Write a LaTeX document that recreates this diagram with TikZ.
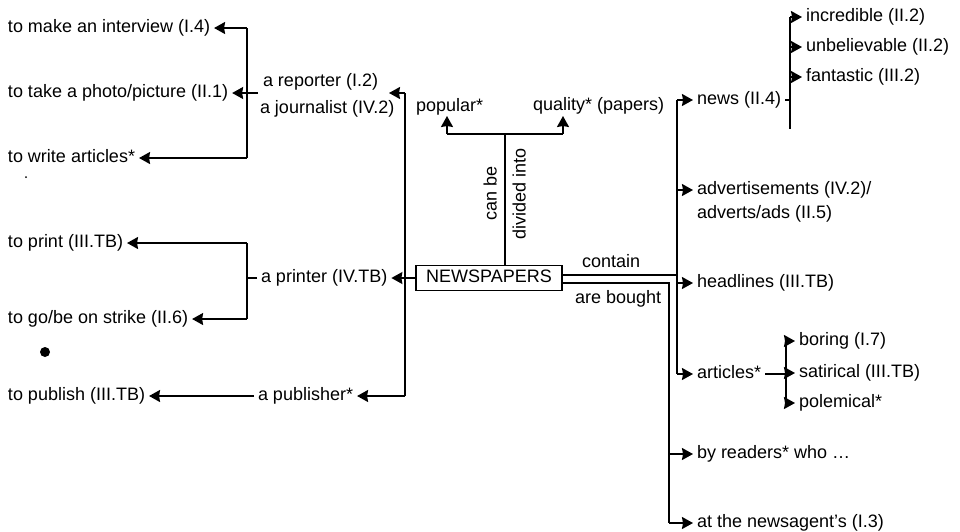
\documentclass[tikz,border=0pt]{standalone}
\usepackage{fontspec}
\setmainfont{Liberation Sans}
\usetikzlibrary{arrows.meta}
\begin{document}
\begin{tikzpicture}[x=1pt,y=-1pt,
  txt/.style={inner sep=0pt,font=\fontsize{18}{20}\selectfont,text height=12.5pt,text depth=3.5pt},
  lab/.style={txt,anchor=west,outer xsep=4pt},
  box/.style={txt,draw,line width=1.4pt,minimum width=146pt,minimum height=25pt},
  ln/.style={line width=1.6pt},
  arr/.style={ln,-{Stealth[length=11pt,width=12pt,inset=1pt]}}]
\useasboundingbox[fill=white] (0,0) rectangle (960,531);
% left labels
\node[lab] (intv) at (4,28) {to make an interview (I.4)};
\node[lab] (photo) at (4,93) {to take a photo/picture (II.1)};
\node[lab] (write) at (4,158) {to write articles*};
\node[lab] (print) at (4,243) {to print (III.TB)};
\node[lab] (strike) at (4,319) {to go/be on strike (II.6)};
\node[lab] (publish) at (4,396) {to publish (III.TB)};
\node[lab] (reporter) at (259,82) {a reporter (I.2)};
\node[lab] (journalist) at (256,109) {a journalist (IV.2)};
\node[lab] (printer) at (257,278) {a printer (IV.TB)};
\node[lab] (publisher) at (254,396) {a publisher*};
% centre
\node[box] (np) at (489,278) {NEWSPAPERS};
\node[lab] (popular) at (412,107) {popular*};
\node[lab] (quality) at (529,106) {quality* (papers)};
\node[txt,rotate=90] (canbe) at (492,193) {can be};
\node[txt,rotate=90] (divided) at (521,194) {divided into};
\node[lab] (contain) at (578,263) {contain};
\node[lab] (bought) at (571,299) {are bought};
% right labels
\node[lab] (news) at (693,100) {news (II.4)};
\node[lab] (incredible) at (802,17) {incredible (II.2)};
\node[lab] (unbelievable) at (802,47) {unbelievable (II.2)};
\node[lab] (fantastic) at (802,77) {fantastic (III.2)};
\node[lab] (ads1) at (693,190) {advertisements (IV.2)/};
\node[lab] (ads2) at (693,214) {adverts/ads (II.5)};
\node[lab] (headlines) at (693,283) {headlines (III.TB)};
\node[lab] (articles) at (693,374) {articles*};
\node[lab] (boring) at (795,341) {boring (I.7)};
\node[lab] (satirical) at (795,373) {satirical (III.TB)};
\node[lab] (polemical) at (795,403) {polemical*};
\node[lab] (readers) at (693,454) {by readers* who \dots};
\node[lab] (newsagent) at (693,523) {at the newsagent’s (I.3)};
% dots
\fill (45,352) circle (5);
\fill (26,177) circle (1);
% reporter group
\coordinate (rTop) at (247,28);
\coordinate (rBot) at (247,158);
\coordinate (rjDash) at (258,93);
\draw[ln] (rTop) -- (rBot);
\draw[arr] (rTop) -- (intv.east);
\draw[arr] (rjDash) -- (photo.east);
\draw[arr] (rBot) -- (write.east);
% spine left of box
\coordinate (sTop) at (405,93);
\coordinate (sBot) at (405,396);
\coordinate (rjTip) at (389,93);
\draw[ln] (sTop) -- (sBot);
\draw[arr] (sTop) -- (rjTip);
\draw[arr] (sBot) -- (publisher.east);
\draw[arr] (np.west) -- (printer.east);
% printer group
\coordinate (pTop) at (247,243);
\coordinate (pBot) at (247,319);
\coordinate (pMid) at (247,278);
\draw[ln] (pTop) -- (pBot);
\draw[ln] (printer.west) -- (pMid);
\draw[arr] (pTop) -- (print.east);
\draw[arr] (pBot) -- (strike.east);
\draw[arr] (publisher.west) -- (publish.east);
% divided into
\coordinate (dv) at (505,134);
\coordinate (dL) at (447,134);
\coordinate (dR) at (563,134);
\coordinate (tipL) at (447,116);
\coordinate (tipR) at (563,116);
\draw[ln] (np.north -| dv) -- (dv);
\draw[ln] (dL) -- (dR);
\draw[arr] (dL) -- (tipL);
\draw[arr] (dR) -- (tipR);
% contain
\coordinate (cJ) at (677,275);
\coordinate (cTop) at (677,100);
\coordinate (cBot) at (677,374);
\draw[ln] (np.east |- cJ) -- (cJ);
\draw[ln] (cTop) -- (cBot);
\draw[arr] (cTop) -- (news.west);
\draw[arr] (cTop |- ads1) -- (ads1.west);
\draw[arr] (cTop |- headlines) -- (headlines.west);
\draw[arr] (cBot) -- (articles.west);
% are bought
\coordinate (bJ) at (669,283);
\coordinate (bBot) at (669,523);
\draw[ln] (np.east |- bJ) -- (bJ) -- (bBot);
\draw[arr] (bJ |- readers) -- (readers.west);
\draw[arr] (bBot) -- (newsagent.west);
% news group
\coordinate (nJ) at (790,100);
\coordinate (nTop) at (790,17);
\coordinate (nBot) at (790,129);
\draw[ln] (news.east) -- (nJ);
\draw[ln] (nTop) -- (nBot);
\draw[arr] (nTop) -- (incredible.west);
\draw[arr] (nTop |- unbelievable) -- (unbelievable.west);
\draw[arr] (nTop |- fantastic) -- (fantastic.west);
% articles group
\coordinate (aJ) at (786,373);
\coordinate (aTop) at (786,341);
\coordinate (aBot) at (786,403);
\draw[ln] (articles.east) -- (articles.east -| aJ);
\draw[ln] (aTop) -- (aBot);
\draw[arr] (aTop) -- (boring.west);
\draw[arr] (aJ) -- (satirical.west);
\draw[arr] (aBot) -- (polemical.west);
\end{tikzpicture}
\end{document}
